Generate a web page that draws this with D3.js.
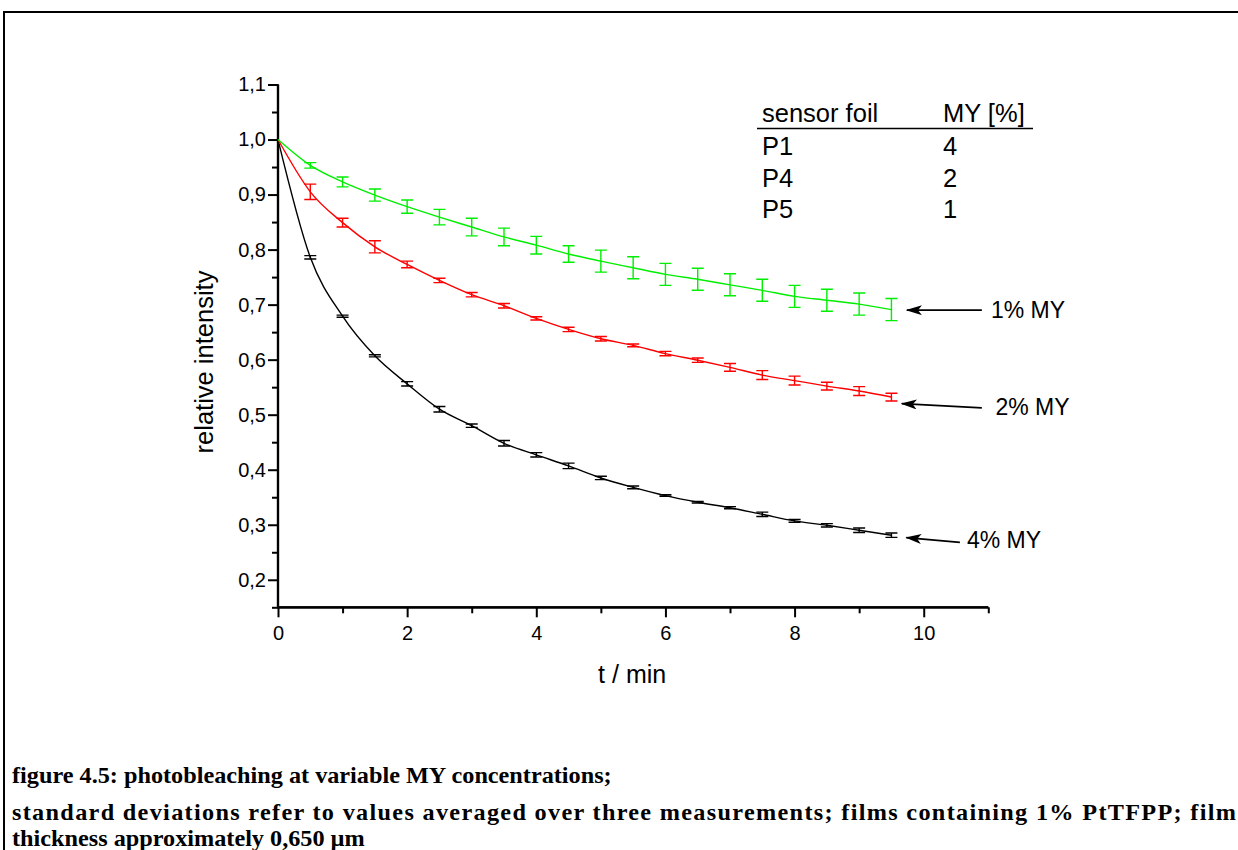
<!DOCTYPE html>
<html>
<head>
<meta charset="utf-8">
<script src="https://cdn.jsdelivr.net/npm/d3@7"></script>
<style>
  html, body { margin: 0; padding: 0; background: #fff; }
  svg { display: block; }
</style>
</head>
<body>
<svg id="chart" width="1238" height="850"></svg>
<script>
// ---------- data ----------
const times = [0, 0.5, 1, 1.5, 2, 2.5, 3, 3.5, 4, 4.5, 5, 5.5, 6, 6.5, 7, 7.5, 8, 8.5, 9, 9.5];

// P5, 1% MY (green)
const p5Values = [1.000, 0.953, 0.923, 0.899, 0.878, 0.859, 0.841, 0.823, 0.808, 0.792, 0.779, 0.767, 0.755, 0.746, 0.736, 0.726, 0.715, 0.708, 0.701, 0.691];
const p5Errors = [0, 0.005, 0.009, 0.011, 0.012, 0.014, 0.016, 0.016, 0.016, 0.015, 0.020, 0.020, 0.020, 0.020, 0.020, 0.020, 0.020, 0.020, 0.020, 0.020];

// P4, 2% MY (red)
const p4Values = [1.000, 0.905, 0.849, 0.805, 0.773, 0.744, 0.718, 0.698, 0.675, 0.655, 0.638, 0.626, 0.611, 0.599, 0.586, 0.572, 0.562, 0.552, 0.543, 0.532];
const p4Errors = [0, 0.014, 0.008, 0.011, 0.006, 0.004, 0.004, 0.004, 0.003, 0.004, 0.004, 0.0025, 0.004, 0.004, 0.007, 0.008, 0.008, 0.007, 0.008, 0.007];

// P1, 4% MY (black)
const p1Values = [1.000, 0.786, 0.679, 0.607, 0.556, 0.510, 0.480, 0.448, 0.427, 0.407, 0.385, 0.368, 0.353, 0.341, 0.331, 0.319, 0.307, 0.299, 0.290, 0.281];
const p1Errors = [0, 0.003, 0.002, 0.002, 0.004, 0.005, 0.003, 0.005, 0.004, 0.005, 0.003, 0.0025, 0.0015, 0.0015, 0.002, 0.004, 0.0025, 0.003, 0.004, 0.004];

const seriesNames = ["P1", "P4", "P5"];
const seriesMY = ["4", "2", "1"];
const seriesColors = ["#000000", "#ff0000", "#00ee00"];

const xMajorTicks = [0, 2, 4, 6, 8, 10];
const xMinorTicks = [1, 3, 5, 7, 9, 11];
const yMajorTicks = [0.2, 0.3, 0.4, 0.5, 0.6, 0.7, 0.8, 0.9, 1.0, 1.1];
const yMinorTicks = [0.15, 0.25, 0.35, 0.45, 0.55, 0.65, 0.75, 0.85, 0.95, 1.05];

const xTitle = "t / min";
const yTitle = "relative intensity";
const legendHeaders = ["sensor foil", "MY [%]"];

// annotation labels with arrow tip / tail in data coordinates
const annoLabels = ["1% MY", "2% MY", "4% MY"];
const annoTipT = [9.74, 9.66, 9.73];
const annoTipV = [0.690, 0.520, 0.2765];
const annoTailT = [10.9, 10.9, 10.56];
const annoTailV = [0.690, 0.5125, 0.268];
const annoTextT = [11.04, 11.11, 10.67];
const annoTextV = [0.675, 0.499, 0.257];

const captionLines = [
  "figure 4.5: photobleaching at variable MY concentrations;",
  "standard deviations refer to values averaged over three measurements; films containing 1% PtTFPP; film",
  "thickness approximately 0,650 \u00b5m"
];

// ---------- drawing ----------
const svg = d3.select("#chart");
const FONT = "'Liberation Sans', Arial, sans-serif";

// outer frame (extends beyond the visible area on right and bottom)
svg.append("rect")
  .attr("x", 4).attr("y", 12)
  .attr("width", 1300).attr("height", 900)
  .attr("fill", "none").attr("stroke", "#000").attr("stroke-width", 2);

const x = d3.scaleLinear().domain([0, 11]).range([278, 988.3]);
const y = d3.scaleLinear().domain([0.15, 1.1]).range([607.3, 84.5]);

const fmtY = v => d3.format(".1f")(v).replace(".", ",");

// x axis
const gx = svg.append("g").attr("transform", `translate(0,${y(0.15)})`);
gx.call(d3.axisBottom(x).tickValues(xMajorTicks).tickSize(10).tickPadding(9).tickFormat(d3.format("d")));
const gx2 = svg.append("g").attr("transform", `translate(0,${y(0.15)})`);
gx2.call(d3.axisBottom(x).tickValues(xMinorTicks).tickSize(6).tickFormat(""));

// y axis
const gy = svg.append("g").attr("transform", `translate(${x(0)},0)`);
gy.call(d3.axisLeft(y).tickValues(yMajorTicks).tickSize(10).tickPadding(2).tickFormat(fmtY));
const gy2 = svg.append("g").attr("transform", `translate(${x(0)},0)`);
gy2.call(d3.axisLeft(y).tickValues(yMinorTicks).tickSize(6).tickFormat(""));

[gx, gx2, gy, gy2].forEach(g => {
  g.selectAll(".domain").attr("stroke", "#000").attr("stroke-width", 2.2);
  g.selectAll(".tick line").attr("stroke", "#000").attr("stroke-width", 2);
  g.selectAll(".tick text").attr("font-family", FONT).attr("font-size", 20).attr("fill", "#000");
});
gx.selectAll(".domain").attr("d", `M${x(0)},0H${x(11)}`);
gx2.selectAll(".domain").attr("d", `M${x(0)},0H${x(11)}`);
gy.selectAll(".domain").attr("d", `M0,${y(0.15)}V${y(1.1)}`);
gy2.selectAll(".domain").attr("d", `M0,${y(0.15)}V${y(1.1)}`);

// axis titles
svg.append("text")
  .attr("x", (x(0) + x(11)) / 2 - 1).attr("y", 683)
  .attr("text-anchor", "middle")
  .attr("font-family", FONT).attr("font-size", 25)
  .text(xTitle);
svg.append("text")
  .attr("transform", `translate(213,362) rotate(-90)`)
  .attr("text-anchor", "middle")
  .attr("font-family", FONT).attr("font-size", 25.5)
  .text(yTitle);

// series
const allValues = [p1Values, p4Values, p5Values];
const allErrors = [p1Errors, p4Errors, p5Errors];
const line = d3.line().x(d => x(d.t)).y(d => y(d.v)).curve(d3.curveMonotoneX);

allValues.forEach((vals, si) => {
  const pts = times.map((t, i) => ({ t, v: vals[i], e: allErrors[si][i] }));
  const col = seriesColors[si];
  svg.append("path").datum(pts)
    .attr("d", line)
    .attr("fill", "none").attr("stroke", col).attr("stroke-width", 1.4);
  const eb = svg.append("g").attr("stroke", col).attr("stroke-width", 1.4).attr("fill", "none");
  const withErr = pts.filter(p => p.e > 0);
  const capHalf = 6;
  eb.selectAll("path").data(withErr).join("path")
    .attr("d", p => {
      const cx = x(p.t), y1 = y(p.v + p.e), y2 = y(p.v - p.e);
      return `M${cx - capHalf},${y1}H${cx + capHalf}M${cx},${y1}V${y2}M${cx - capHalf},${y2}H${cx + capHalf}`;
    });
});

// legend table
const lg = svg.append("g").attr("font-family", FONT).attr("font-size", 25.5).attr("fill", "#000");
lg.append("text").attr("x", 762).attr("y", 122).text(legendHeaders[0]);
lg.append("text").attr("x", 943).attr("y", 122).text(legendHeaders[1]);
lg.append("line").attr("x1", 757).attr("x2", 1033).attr("y1", 128.5).attr("y2", 128.5)
  .attr("stroke", "#000").attr("stroke-width", 1.6);
const rowY = [155, 187, 218];
seriesNames.forEach((n, i) => {
  lg.append("text").attr("x", 762).attr("y", rowY[i]).text(n);
  lg.append("text").attr("x", 943).attr("y", rowY[i]).text(seriesMY[i]);
});

// annotations with arrows
const defs = svg.append("defs");
defs.append("marker")
  .attr("id", "arrow").attr("viewBox", "0 0 16 10")
  .attr("refX", 15).attr("refY", 5)
  .attr("markerWidth", 16).attr("markerHeight", 10)
  .attr("markerUnits", "userSpaceOnUse")
  .attr("orient", "auto")
  .append("path").attr("d", "M0,0L16,5L0,10L4,5Z").attr("fill", "#000");

annoLabels.forEach((lab, i) => {
  svg.append("line")
    .attr("x1", x(annoTailT[i])).attr("y1", y(annoTailV[i]))
    .attr("x2", x(annoTipT[i])).attr("y2", y(annoTipV[i]))
    .attr("stroke", "#000").attr("stroke-width", 1.8)
    .attr("marker-end", "url(#arrow)");
  svg.append("text")
    .attr("x", x(annoTextT[i])).attr("y", y(annoTextV[i]))
    .attr("font-family", FONT).attr("font-size", 23)
    .text(lab);
});

// caption: condensed bold serif; first line ~600px wide, second line spread to full width
const capG = svg.append("g").attr("font-family", "'Liberation Serif', 'Times New Roman', serif")
  .attr("font-weight", "bold").attr("fill", "#000");
const capY = [783, 820, 846];
const capFs = 24;
const capTexts = captionLines.map((t, i) =>
  capG.append("text").attr("x", 0).attr("y", 0).attr("font-size", capFs).text(t));
const L1 = capTexts[0].node().getComputedTextLength();
const sx = 600 / L1;
capTexts.forEach((t, i) => t.attr("transform", `translate(12,${capY[i]}) scale(${sx},1)`));
const target = 1224 / sx;
capTexts[1].attr("textLength", target).attr("lengthAdjust", "spacing");
</script>
</body>
</html>
